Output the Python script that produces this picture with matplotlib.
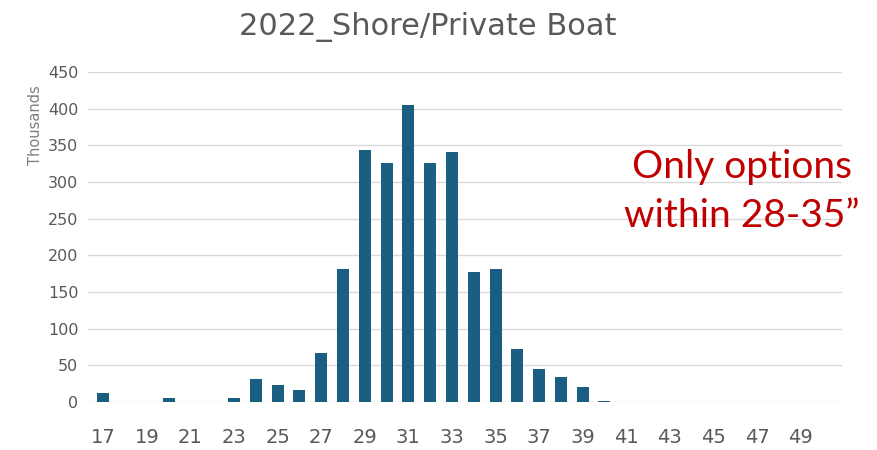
import matplotlib.pyplot as plt
import numpy as np

# lengths 17..50, counts in thousands
lengths = list(range(17, 51))
counts = [12, 0, 0, 5, 0, 0, 6, 31, 23, 16, 67, 182, 343, 326, 405, 326, 341,
          177, 182, 72, 45, 34, 20, 2, 0, 0, 0, 0, 0, 0, 0, 0, 0, 0]
tick_labels = [str(v) for v in range(17, 51, 2)]

fig = plt.figure(figsize=(8.77, 4.5), dpi=100)
ax = fig.add_axes([88/877, 48/450, 754/877, 330/450])

x = np.arange(len(lengths))
ax.bar(x, counts, width=0.55, color='#1a5f82', zorder=3)

ax.set_ylim(0, 450)
ax.set_yticks(range(0, 451, 50))
ax.set_xlim(-0.7, len(lengths) - 0.1)
ax.set_xticks(x[::2])
ax.set_xticklabels(tick_labels)
ax.grid(axis='y', color='#d9d9d9', linewidth=1, zorder=0)
for s in ax.spines.values():
    s.set_visible(False)
ax.tick_params(axis='both', length=0, colors='#595959')
ax.tick_params(axis='x', labelsize=14, pad=19)
ax.tick_params(axis='y', labelsize=11.5, pad=7)
ax.set_ylabel('Thousands', color='#7f7f7f', fontsize=10.5)
ax.yaxis.set_label_coords(-0.06, 0.84)

fig.text(0.488, 0.94, '2022_Shore/Private Boat', ha='center', va='center',
         fontsize=22, color='#595959')
fig.text(0.846, 0.575, 'Only options\nwithin 28-35\u201d', ha='center', va='center',
         fontsize=28, color='#c00000', linespacing=1.45, family='Lato')

fig.savefig('out.png')
